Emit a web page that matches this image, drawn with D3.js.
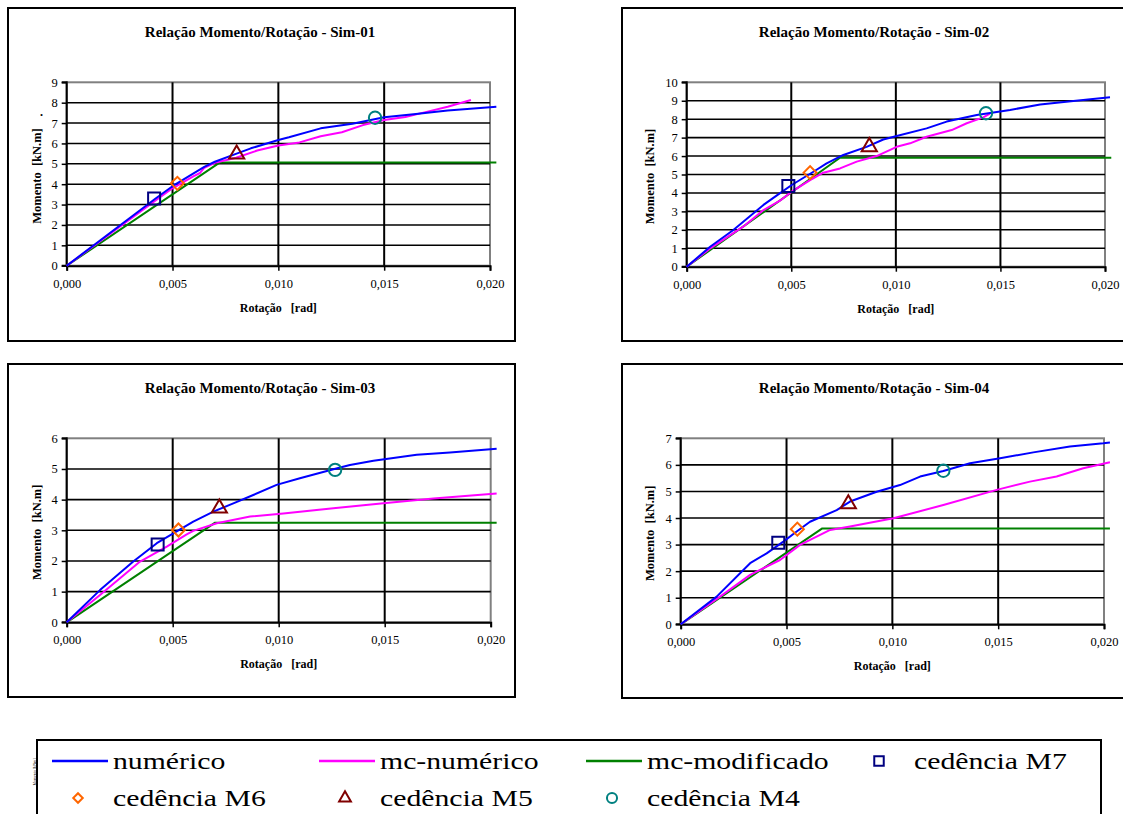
<!DOCTYPE html>
<html>
<head>
<meta charset="utf-8">
<script src="https://cdn.jsdelivr.net/npm/d3@7"></script>
<style>
  body { margin: 0; background: #fff; }
  svg { display: block; font-family: "Liberation Serif", "Times New Roman", serif; }
  text { white-space: pre; }
</style>
</head>
<body>
<div id="chart"></div>
<script>
// dados
const titulos = [
  "Relação Momento/Rotação - Sim-01",
  "Relação Momento/Rotação - Sim-02",
  "Relação Momento/Rotação - Sim-03",
  "Relação Momento/Rotação - Sim-04"
];
const xTicks = [0, 0.005, 0.010, 0.015, 0.020];
const yMaximos = [9, 10, 6, 7];

// Sim-01
const numerico01 = [[0,0],[0.0042,3.3],[0.005,3.9],[0.0065,4.85],[0.007,5.1],[0.0079,5.45],[0.0087,5.76],[0.010,6.17],[0.0105,6.3],[0.012,6.74],[0.0135,6.97],[0.015,7.28],[0.0165,7.45],[0.018,7.62],[0.0203,7.8]];
const mcNumerico01 = [[0,0],[0.0042,3.2],[0.005,3.8],[0.006,4.4],[0.0063,4.55],[0.0065,4.8],[0.007,5.05],[0.008,5.3],[0.009,5.65],[0.010,5.9],[0.011,6.05],[0.012,6.35],[0.013,6.55],[0.014,6.9],[0.015,7.15],[0.016,7.3],[0.017,7.55],[0.018,7.8],[0.0191,8.13]];
const mcModificado01 = [[0,0],[0.00724,5.07],[0.0203,5.07]];
const cedencias01 = { M7: [0.00413,3.3], M6: [0.00523,4.04], M5: [0.00803,5.47], M4: [0.01457,7.26] };

// Sim-02
const numerico02 = [[0,0],[0.00112,1.08],[0.00223,1.99],[0.00367,3.35],[0.00438,3.92],[0.00502,4.43],[0.00606,5.15],[0.00669,5.6],[0.00749,6.06],[0.0086,6.5],[0.0094,6.9],[0.01004,7.09],[0.01147,7.5],[0.01243,7.87],[0.01387,8.23],[0.01546,8.5],[0.0169,8.8],[0.01849,8.99],[0.02024,9.19]];
const mcNumerico02 = [[0,0],[0.00112,0.99],[0.0027,2.17],[0.00367,3.07],[0.00446,3.58],[0.00502,4.07],[0.0059,4.7],[0.00653,5.1],[0.00733,5.33],[0.00813,5.7],[0.00908,6.0],[0.01004,6.5],[0.01068,6.69],[0.01147,7.05],[0.01267,7.41],[0.01339,7.78],[0.01418,8.1],[0.0145,8.3]];
const mcModificado02 = [[0,0],[0.00733,5.91],[0.0203,5.91]];
const cedencias02 = { M7: [0.00486,4.38], M6: [0.0059,5.1], M5: [0.00873,6.5], M4: [0.01431,8.32] };

// Sim-03
const numerico03 = [[0,0],[0.00157,1.05],[0.00314,1.98],[0.00425,2.58],[0.00503,2.9],[0.00597,3.28],[0.00692,3.61],[0.00786,3.88],[0.0088,4.15],[0.0099,4.48],[0.011,4.7],[0.01258,4.99],[0.01336,5.13],[0.01447,5.27],[0.01651,5.46],[0.01808,5.54],[0.02028,5.66]];
const mcNumerico03 = [[0,0],[0.00157,0.89],[0.00346,1.98],[0.00472,2.47],[0.00566,2.87],[0.00597,2.98],[0.00708,3.23],[0.00865,3.45],[0.01022,3.55],[0.01258,3.72],[0.01494,3.88],[0.0173,4.04],[0.02028,4.2]];
const mcModificado03 = [[0,0],[0.007,3.25],[0.02028,3.25]];
const cedencias03 = { M7: [0.00429,2.54], M6: [0.00527,3.01], M5: [0.0072,3.72], M4: [0.01266,4.97] };

// Sim-04
const numerico04 = [[0,0],[0.0017,1.04],[0.00328,2.3],[0.00406,2.67],[0.00485,3.11],[0.00548,3.49],[0.00611,3.86],[0.00737,4.3],[0.008,4.62],[0.00926,4.99],[0.01036,5.24],[0.01131,5.56],[0.01241,5.77],[0.01367,6.06],[0.01509,6.25],[0.01666,6.47],[0.01839,6.69],[0.01997,6.81],[0.02028,6.84]];
const mcNumerico04 = [[0,0],[0.00186,1.04],[0.00328,1.86],[0.00469,2.42],[0.00564,2.99],[0.00706,3.55],[0.008,3.68],[0.01005,3.99],[0.01241,4.49],[0.01493,5.06],[0.0165,5.37],[0.01776,5.56],[0.01902,5.87],[0.02028,6.1]];
const mcModificado04 = [[0,0],[0.00669,3.61],[0.02028,3.61]];
const cedencias04 = { M7: [0.00461,3.07], M6: [0.00551,3.58], M5: [0.00792,4.53], M4: [0.01241,5.78] };

const seriesNomes = ["numérico", "mc-numérico", "mc-modificado"];
const cedenciaNomes = ["cedência M7", "cedência M6", "cedência M5", "cedência M4"];

// cores
const corLinhas = ["#0000ff", "#ff00ff", "#008000"];
const corMarcas = { M7: "#000080", M6: "#ff6600", M5: "#800000", M4: "#008080" };
// M6 = quadrado rodado 45 graus (losango)
const simbolos = { M7: d3.symbolSquare, M6: d3.symbolSquare, M5: d3.symbolTriangle, M4: d3.symbolCircle };
const rotacao = { M7: 0, M6: 45, M5: 0, M4: 0 };

const dados = [
  { linhas: [numerico01, mcNumerico01, mcModificado01], ced: cedencias01 },
  { linhas: [numerico02, mcNumerico02, mcModificado02], ced: cedencias02 },
  { linhas: [numerico03, mcNumerico03, mcModificado03], ced: cedencias03 },
  { linhas: [numerico04, mcNumerico04, mcModificado04], ced: cedencias04 }
];

// posicoes dos quadros
const quadros = [
  { box: [8, 8, 507, 333], plot: [66.7, 490, 82.3, 265.7] },
  { box: [622, 8, 520, 333], plot: [686.7, 1105, 82.3, 266.7] },
  { box: [8, 364, 507, 333], plot: [66.7, 490.7, 438.3, 622.3] },
  { box: [622, 364, 520, 334], plot: [680.7, 1104, 438.3, 624.3] }
];

const svg = d3.select("#chart").append("svg")
  .attr("width", 1123)
  .attr("height", 814);

const fmt = d => d3.format(".3f")(d).replace(".", ",");

quadros.forEach((q, i) => {
  const [left, right, top, bottom] = q.plot;
  const g = svg.append("g");

  g.append("rect")
    .attr("x", q.box[0]).attr("y", q.box[1])
    .attr("width", q.box[2]).attr("height", q.box[3])
    .attr("fill", "#fff").attr("stroke", "#000").attr("stroke-width", 2);

  const x = d3.scaleLinear().domain([0, 0.020]).range([left, right]);
  const y = d3.scaleLinear().domain([0, yMaximos[i]]).range([bottom, top]);

  // titulo
  g.append("text")
    .attr("x", i % 2 ? 874 : 260)
    .attr("y", q.box[1] + 29)
    .attr("text-anchor", "middle")
    .attr("font-weight", "bold")
    .attr("font-size", "15px")
    .text(titulos[i]);

  // moldura do plot
  g.append("rect")
    .attr("x", left).attr("y", top)
    .attr("width", right - left).attr("height", bottom - top)
    .attr("fill", "none").attr("stroke", "#808080").attr("stroke-width", 2);

  // grelha
  g.selectAll(".hgrid")
    .data(d3.range(1, yMaximos[i]))
    .enter().append("line")
    .attr("x1", left).attr("x2", right)
    .attr("y1", d => y(d)).attr("y2", d => y(d))
    .attr("stroke", "#000").attr("stroke-width", 1.6);

  g.selectAll(".vgrid")
    .data(xTicks.slice(1, -1))
    .enter().append("line")
    .attr("x1", d => x(d)).attr("x2", d => x(d))
    .attr("y1", top).attr("y2", bottom)
    .attr("stroke", "#000").attr("stroke-width", 2);

  // eixos
  const eixoY = g.append("g")
    .attr("transform", `translate(${left},0)`)
    .call(d3.axisLeft(y).tickValues(d3.range(0, yMaximos[i] + 1)).tickSize(5).tickPadding(4).tickFormat(d3.format("d")));
  const eixoX = g.append("g")
    .attr("transform", `translate(0,${bottom})`)
    .call(d3.axisBottom(x).tickValues(xTicks).tickSize(5).tickPadding(8).tickFormat(fmt));

  [eixoY, eixoX].forEach(e => {
    e.attr("font-family", null);
    e.select(".domain").attr("stroke", "#000").attr("stroke-width", 2);
    e.selectAll(".tick line").attr("stroke", "#000").attr("stroke-width", 1.5);
    e.selectAll(".tick text")
      .attr("fill", "#000")
      .style("font-family", "'Liberation Serif', 'Times New Roman', serif")
      .style("font-size", "12.5px");
  });
  eixoY.select(".domain").attr("d", `M-5,${bottom}H0V${top}H-5`);

  // titulos dos eixos
  g.append("text")
    .attr("x", (left + right) / 2)
    .attr("y", bottom + 46)
    .attr("text-anchor", "middle")
    .attr("font-weight", "bold")
    .attr("font-size", "12px")
    .text("Rotação   [rad]");

  const yc = (top + bottom) / 2 + 2;
  g.append("text")
    .attr("transform", `translate(${q.box[0] + (i % 2 ? 32 : 33)},${yc}) rotate(-90)`)
    .attr("text-anchor", "middle")
    .attr("font-weight", "bold")
    .attr("font-size", "12.5px")
    .text("Momento  [kN.m]");

  if (i === 0) {
    g.append("text")
      .attr("x", 40).attr("y", 116)
      .attr("font-size", "12px")
      .attr("font-weight", "bold")
      .text(".");
  }

  // linhas
  const linha = d3.line().x(d => x(d[0])).y(d => y(d[1]));
  [2, 1, 0].forEach(k => {
    g.append("path")
      .datum(dados[i].linhas[k])
      .attr("d", linha)
      .attr("fill", "none")
      .attr("stroke", corLinhas[k])
      .attr("stroke-width", 2)
      .attr("stroke-linejoin", "round");
  });

  // marcas de cedencia
  Object.keys(dados[i].ced).forEach(m => {
    const p = dados[i].ced[m];
    const tam = m === "M6" ? 85 : m === "M5" ? 100 : m === "M4" ? 120 : 144;
    g.append("path")
      .attr("d", d3.symbol().type(simbolos[m]).size(tam)())
      .attr("transform", `translate(${x(p[0])},${y(p[1])}) rotate(${rotacao[m]})`)
      .attr("fill", "none")
      .attr("stroke", corMarcas[m])
      .attr("stroke-width", 2);
  });
});

// legenda
const leg = svg.append("g");
leg.append("rect")
  .attr("x", 37).attr("y", 740)
  .attr("width", 1064).attr("height", 90)
  .attr("fill", "#fff").attr("stroke", "#000").attr("stroke-width", 2);

leg.append("text")
  .attr("transform", "translate(36,772) rotate(-90)")
  .attr("text-anchor", "middle")
  .attr("font-size", "4px")
  .text("Momento [kNm]");

const colX = [52, 319, 586, 853];
const itens = seriesNomes.map((n, k) => ({ nome: n, tipo: "linha", cor: corLinhas[k] }))
  .concat(["M7", "M6", "M5", "M4"].map((m, k) => ({ nome: cedenciaNomes[k], tipo: m, cor: corMarcas[m] })));

itens.forEach((it, k) => {
  const col = k < 4 ? k : k - 4;
  const linhaY = k < 4 ? 761 : 798;
  const base = k < 4 ? 769 : 806;
  const cx = colX[col];
  if (it.tipo === "linha") {
    leg.append("line")
      .attr("x1", cx).attr("x2", cx + 56)
      .attr("y1", linhaY).attr("y2", linhaY)
      .attr("stroke", it.cor).attr("stroke-width", 2.5);
  } else {
    const tam = it.tipo === "M6" ? 45 : it.tipo === "M5" ? 60 : it.tipo === "M4" ? 80 : 90;
    leg.append("path")
      .attr("d", d3.symbol().type(simbolos[it.tipo]).size(tam)())
      .attr("transform", `translate(${cx + 26},${linhaY}) rotate(${rotacao[it.tipo]})`)
      .attr("fill", "none")
      .attr("stroke", it.cor)
      .attr("stroke-width", 2);
  }
  leg.append("text")
    .attr("transform", `translate(${cx + 61},${base}) scale(1.24,1)`)
    .attr("font-size", "24px")
    .text(it.nome);
});
</script>
</body>
</html>
